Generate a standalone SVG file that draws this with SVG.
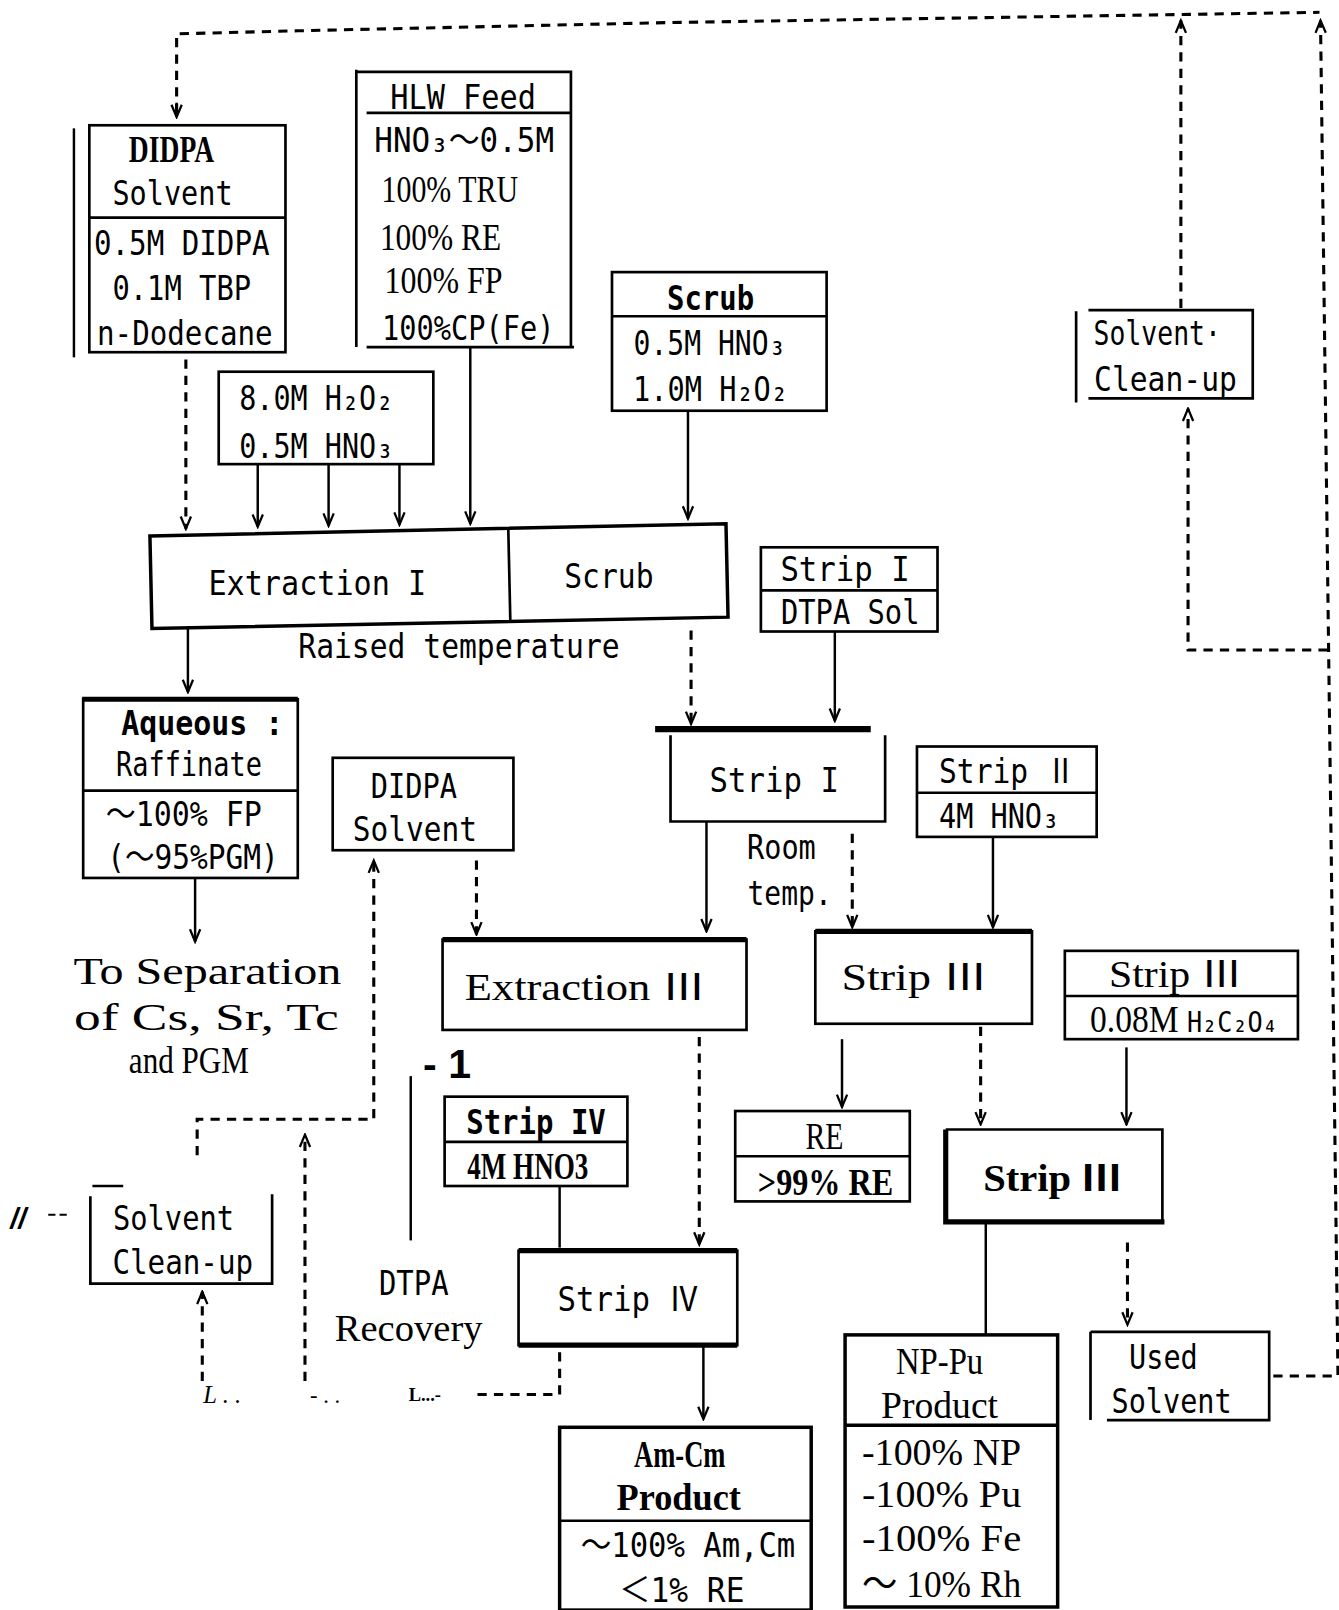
<svg xmlns="http://www.w3.org/2000/svg" width="1339" height="1610" viewBox="0 0 1339 1610">
<style>
.bx{fill:none;stroke:#000;stroke-width:2.6}
.tk{fill:none;stroke:#000;stroke-width:5}
.ln{fill:none;stroke:#000;stroke-width:2.4}
.dl{fill:none;stroke:#000;stroke-width:3;stroke-dasharray:9 7}
.m{font-family:"DejaVu Sans Mono","Noto Sans CJK JP",monospace;font-size:33px;text-anchor:middle;fill:#000}
.s{font-family:"Liberation Serif","Noto Sans CJK JP",serif;font-size:36px;text-anchor:middle;fill:#000}
.b{font-weight:bold}
</style>
<defs>
<marker id="ah" viewBox="-14 -7 16 14" refX="0" refY="0" markerWidth="16" markerHeight="14" markerUnits="userSpaceOnUse" orient="auto">
<path d="M-12,-5 L0,0 L-12,5" fill="none" stroke="#000" stroke-width="2.2"/>
</marker>
</defs>
<rect width="1339" height="1610" fill="#fff"/>
<g transform="scale(1.02684)">

<g id="connectors">
<polyline class="dl" points="172,110 172,33 290,30 650,22 1285,12"/>
<path d="M172,100 L172,114" stroke="#000" stroke-width="2.4" marker-end="url(#ah)"/>
<path class="dl" d="M1240,1340 H1303 L1286,20" marker-end="url(#ah)"/>
<path class="dl" d="M1150,300 V20" marker-end="url(#ah)"/>
<path class="dl" d="M1293,633 H1157 V398" marker-end="url(#ah)"/>
<path class="dl" d="M181,350 V515" marker-end="url(#ah)"/>
<path class="ln" d="M251,452 V513" marker-end="url(#ah)"/>
<path class="ln" d="M320,452 V512" marker-end="url(#ah)"/>
<path class="ln" d="M389,452 V511" marker-end="url(#ah)"/>
<path class="ln" d="M458,338 V510" marker-end="url(#ah)"/>
<path class="ln" d="M670,400 V505" marker-end="url(#ah)"/>
<path class="ln" d="M183,612 V674" marker-end="url(#ah)"/>
<path class="ln" d="M190,855 V917" marker-end="url(#ah)"/>
<path class="dl" d="M673,614 V705" marker-end="url(#ah)"/>
<path class="ln" d="M813,615 V702" marker-end="url(#ah)"/>
<path class="ln" d="M688,800 V907" marker-end="url(#ah)"/>
<path class="dl" d="M830,812 V903" marker-end="url(#ah)"/>
<path class="ln" d="M967,815 V903" marker-end="url(#ah)"/>
<path class="dl" d="M464,838 V910" marker-end="url(#ah)"/>
<path class="dl" d="M192,1125 V1090 H364 V838" marker-end="url(#ah)"/>
<path class="dl" d="M297,1345 V1105" marker-end="url(#ah)"/>
<path class="dl" d="M197,1345 V1258" marker-end="url(#ah)"/>
<path class="dl" d="M465,1358 H545 V1315"/>
<path class="dl" d="M681,1010 V1212" marker-end="url(#ah)"/>
<path class="ln" d="M545,1155 V1215" stroke-width="1.6"/>
<path class="ln" d="M685,1310 V1382" marker-end="url(#ah)"/>
<path class="ln" d="M820,1012 V1078" marker-end="url(#ah)"/>
<path class="dl" d="M955,1000 V1095" marker-end="url(#ah)"/>
<path class="ln" d="M1097,1020 V1095" marker-end="url(#ah)"/>
<path class="ln" d="M960,1190 V1300" stroke-width="3.4"/>
<path class="dl" d="M1098,1210 V1290" marker-end="url(#ah)"/>
<path class="ln" d="M400,1048 V1208" stroke-width="2"/>
</g>

<g id="didpa-solvent-top">
<path class="ln" d="M72,125 V348"/>
<rect class="bx" x="87" y="122" width="191" height="221"/>
<path class="bx" d="M87,212 H278"/>
<text class="s b" x="167" y="158" font-size="30" textLength="83" lengthAdjust="spacingAndGlyphs">DIDPA</text>
<text class="m" x="168" y="200" textLength="117" lengthAdjust="spacingAndGlyphs">Solvent</text>
<text class="m" x="177" y="248" textLength="171" lengthAdjust="spacingAndGlyphs">0.5M DIDPA</text>
<text class="m" x="177" y="292" textLength="135" lengthAdjust="spacingAndGlyphs">0.1M TBP</text>
<text class="m" x="180" y="336" textLength="171" lengthAdjust="spacingAndGlyphs">n-Dodecane</text>
</g>

<g id="hlw-feed">
<path class="bx" d="M347,68 V338 M347,70 H556 V338 M357,338 H559 M357,110 H556"/>
<text class="m" x="451" y="106" textLength="142" lengthAdjust="spacingAndGlyphs">HLW Feed</text>
<text class="m" x="452" y="148" textLength="175" lengthAdjust="spacingAndGlyphs">HNO₃～0.5M</text>
<text class="s" x="438" y="197" textLength="133" lengthAdjust="spacingAndGlyphs">100% TRU</text>
<text class="s" x="429" y="243" textLength="118" lengthAdjust="spacingAndGlyphs">100% RE</text>
<text class="s" x="432" y="285" textLength="115" lengthAdjust="spacingAndGlyphs">100% FP</text>
<text class="m" x="456" y="331" textLength="168" lengthAdjust="spacingAndGlyphs">100%CP(Fe)</text>
</g>

<g id="h2o2-feed">
<rect class="bx" x="213" y="362" width="209" height="90"/>
<text class="m" x="308" y="399" textLength="150" lengthAdjust="spacingAndGlyphs">8.0M H₂O₂</text>
<text class="m" x="308" y="446" textLength="150" lengthAdjust="spacingAndGlyphs">0.5M HNO₃</text>
</g>

<g id="scrub-feed">
<rect class="bx" x="596" y="265" width="209" height="135"/>
<path class="bx" d="M596,308 H805"/>
<text class="m b" x="692" y="302" textLength="85" lengthAdjust="spacingAndGlyphs">Scrub</text>
<text class="m" x="691" y="346" textLength="148" lengthAdjust="spacingAndGlyphs">0.5M HNO₃</text>
<text class="m" x="692" y="391" textLength="151" lengthAdjust="spacingAndGlyphs">1.0M H₂O₂</text>
</g>

<g id="extraction-1">
<polygon points="146,522 707,510 709,601 148,612" fill="none" stroke="#000" stroke-width="3.4"/>
<path class="bx" d="M495,515 L497,605"/>
<text class="m" x="309" y="579" textLength="212" lengthAdjust="spacingAndGlyphs">Extraction I</text>
<text class="m" x="593" y="573" textLength="87" lengthAdjust="spacingAndGlyphs">Scrub</text>
<text class="m" x="447" y="641" textLength="313" lengthAdjust="spacingAndGlyphs">Raised temperature</text>
</g>

<g id="aqueous-raffinate">
<rect class="bx" x="81" y="681" width="209" height="174"/>
<path class="tk" d="M80,681 H290"/>
<path class="bx" d="M81,770 H290"/>
<text class="m b" x="197" y="716" textLength="158" lengthAdjust="spacingAndGlyphs">Aqueous :</text>
<text class="m" x="184" y="756" textLength="142" lengthAdjust="spacingAndGlyphs">Raffinate</text>
<text class="m" x="179" y="804" textLength="152" lengthAdjust="spacingAndGlyphs">～100% FP</text>
<text class="m" x="188" y="846" textLength="167" lengthAdjust="spacingAndGlyphs">(～95%PGM)</text>
</g>

<g id="to-separation">
<text class="s" x="202" y="958" textLength="261" lengthAdjust="spacingAndGlyphs">To Separation</text>
<text class="s" x="201" y="1003" textLength="258" lengthAdjust="spacingAndGlyphs">of Cs, Sr, Tc</text>
<text class="s" x="184" y="1045" font-size="34" textLength="117" lengthAdjust="spacingAndGlyphs">and PGM</text>
</g>

<g id="didpa-solvent-mid">
<rect class="bx" x="324" y="738" width="176" height="90"/>
<text class="m" x="403" y="777" textLength="84" lengthAdjust="spacingAndGlyphs">DIDPA</text>
<text class="m" x="404" y="819" textLength="121" lengthAdjust="spacingAndGlyphs">Solvent</text>
</g>

<g id="strip1-feed">
<rect class="bx" x="741" y="533" width="172" height="82"/>
<path class="bx" d="M741,575 H913"/>
<text class="m" x="823" y="566" textLength="126" lengthAdjust="spacingAndGlyphs">Strip I</text>
<text class="m" x="828" y="608" textLength="135" lengthAdjust="spacingAndGlyphs">DTPA Sol</text>
</g>

<g id="strip1">
<path d="M638,710 H848" stroke="#000" stroke-width="6"/>
<path class="bx" d="M653,716 V800 H862 V716"/>
<text class="m" x="754" y="771" textLength="126" lengthAdjust="spacingAndGlyphs">Strip I</text>
<text class="m" x="761" y="837" textLength="67" lengthAdjust="spacingAndGlyphs">Room</text>
<text class="m" x="769" y="881" textLength="82" lengthAdjust="spacingAndGlyphs">temp.</text>
</g>

<g id="strip2-feed">
<rect class="bx" x="893" y="727" width="175" height="88"/>
<path class="bx" d="M893,772 H1068"/>
<text class="m" x="981" y="763" textLength="133" lengthAdjust="spacingAndGlyphs">Strip Ⅱ</text>
<text class="m" x="973" y="806" textLength="117" lengthAdjust="spacingAndGlyphs">4M HNO₃</text>
</g>

<g id="extraction-3">
<rect class="bx" x="431" y="915" width="296" height="88"/>
<path class="tk" d="M431,915 H727"/>
<text class="s" x="570" y="974" font-size="38" textLength="235" lengthAdjust="spacingAndGlyphs">Extraction Ⅲ</text>
</g>

<g id="strip2">
<rect class="bx" x="794" y="907" width="211" height="90"/>
<path class="tk" d="M794,907 H1005"/>
<text class="s" x="891" y="964" textLength="143" lengthAdjust="spacingAndGlyphs">Strip Ⅲ</text>
</g>

<g id="strip3-feed">
<rect class="bx" x="1037" y="926" width="227" height="86"/>
<path class="bx" d="M1037,970 H1264"/>
<text class="s" x="1145" y="961" textLength="130" lengthAdjust="spacingAndGlyphs">Strip Ⅲ</text>
<text class="s" x="1153" y="1005" font-size="34" textLength="183" lengthAdjust="spacingAndGlyphs">0.08M <tspan font-family="DejaVu Sans Mono" font-size="27">H₂C₂O₄</tspan></text>
</g>

<g id="re-product">
<rect class="bx" x="716" y="1082" width="170" height="88"/>
<path class="bx" d="M716,1126 H886"/>
<text class="s" x="803" y="1119" textLength="37" lengthAdjust="spacingAndGlyphs">RE</text>
<text class="s b" x="804" y="1164" font-size="32" textLength="132" lengthAdjust="spacingAndGlyphs">&gt;99% RE</text>
</g>

<g id="strip3">
<path class="bx" d="M921,1100 H1132 V1190"/>
<path d="M921,1100 V1190 H1134" fill="none" stroke="#000" stroke-width="5"/>
<text class="s b" x="1025" y="1160" font-size="34" textLength="135" lengthAdjust="spacingAndGlyphs">Strip Ⅲ</text>
</g>

<g id="used-solvent">
<path class="bx" d="M1062,1297 V1383 M1062,1297 H1236 V1383 H1078"/>
<text class="m" x="1133" y="1333" textLength="67" lengthAdjust="spacingAndGlyphs">Used</text>
<text class="m" x="1141" y="1376" textLength="117" lengthAdjust="spacingAndGlyphs">Solvent</text>
</g>

<g id="np-pu-product">
<rect x="823" y="1300" width="207" height="265" fill="none" stroke="#000" stroke-width="3.4"/>
<path d="M823,1388 H1030" stroke="#000" stroke-width="3.4"/>
<text class="s" x="915" y="1338" font-size="28" textLength="85" lengthAdjust="spacingAndGlyphs">NP-Pu</text>
<text class="s" x="915" y="1381" font-size="32" textLength="114" lengthAdjust="spacingAndGlyphs">Product</text>
<text class="s" x="917" y="1427" font-size="32" textLength="155" lengthAdjust="spacingAndGlyphs">-100% NP</text>
<text class="s" x="917" y="1468" font-size="36" textLength="155" lengthAdjust="spacingAndGlyphs">-100% Pu</text>
<text class="s" x="917" y="1510" font-size="36" textLength="155" lengthAdjust="spacingAndGlyphs">-100% Fe</text>
<text class="s" x="917" y="1555" font-size="36" textLength="155" lengthAdjust="spacingAndGlyphs">～ 10% Rh</text>
</g>

<g id="strip4-feed">
<rect class="bx" x="433" y="1068" width="178" height="87"/>
<path class="bx" d="M433,1112 H611"/>
<text class="m b" x="522" y="1104" textLength="136" lengthAdjust="spacingAndGlyphs">Strip IV</text>
<text class="s b" x="514" y="1148" font-size="32" textLength="118" lengthAdjust="spacingAndGlyphs">4M HNO3</text>
</g>

<g id="strip4">
<rect class="bx" x="505" y="1218" width="213" height="92"/>
<path class="tk" d="M505,1218 H718 M505,1310 H718"/>
<text class="m" x="612" y="1277" textLength="138" lengthAdjust="spacingAndGlyphs">Strip Ⅳ</text>
</g>

<g id="am-cm-product">
<rect x="545" y="1390" width="245" height="178" fill="none" stroke="#000" stroke-width="3.4"/>
<path class="bx" d="M545,1481 H790"/>
<text class="s b" x="662" y="1429" font-size="32" textLength="89" lengthAdjust="spacingAndGlyphs">Am-Cm</text>
<text class="s b" x="661" y="1471" font-size="32" textLength="121" lengthAdjust="spacingAndGlyphs">Product</text>
<text class="m" x="670" y="1516" textLength="209" lengthAdjust="spacingAndGlyphs">～100% Am,Cm</text>
<text class="m" x="664" y="1560" textLength="122" lengthAdjust="spacingAndGlyphs">＜1% RE</text>
</g>

<g id="solvent-cleanup-right">
<path class="bx" d="M1048,303 V392 M1060,302 H1220 V388 H1060"/>
<text class="m" x="1127" y="336" textLength="124" lengthAdjust="spacingAndGlyphs">Solvent·</text>
<text class="m" x="1135" y="381" textLength="139" lengthAdjust="spacingAndGlyphs">Clean-up</text>
</g>

<g id="solvent-cleanup-left">
<path class="bx" d="M88,1165 V1250 H265 V1163 M90,1155 H120"/>
<text class="m" x="169" y="1198" textLength="118" lengthAdjust="spacingAndGlyphs">Solvent</text>
<text class="m" x="178" y="1241" textLength="137" lengthAdjust="spacingAndGlyphs">Clean-up</text>
<text x="10" y="1197" font-family="Liberation Sans, sans-serif" font-size="28" font-weight="bold" font-style="italic">//</text>
<path d="M47,1183 H65" stroke="#000" stroke-width="2" stroke-dasharray="7 4"/>
</g>

<g id="dtpa-recovery">
<text x="412" y="1050" font-family="Liberation Sans, sans-serif" font-size="40" font-weight="bold">- 1</text>
<text class="m" x="403" y="1261" textLength="68" lengthAdjust="spacingAndGlyphs">DTPA</text>
<text class="s" x="398" y="1306" font-size="34" textLength="144" lengthAdjust="spacingAndGlyphs">Recovery</text>
<text x="198" y="1366" font-family="Liberation Serif, serif" font-size="24" font-style="italic">L . .</text>
<text x="302" y="1366" font-family="Liberation Serif, serif" font-size="22">- . .</text>
<text x="398" y="1364" font-family="Liberation Serif, serif" font-size="18" font-weight="bold">L...-</text>
</g>

</g>
</svg>
